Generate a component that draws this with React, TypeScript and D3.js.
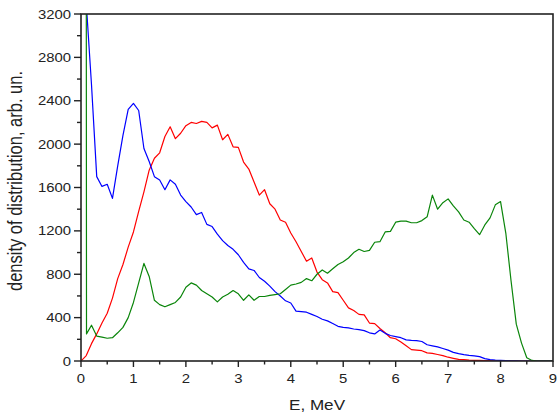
import React from "react";
import * as d3 from "d3";

const ENERGY = [0.0,0.1,0.2,0.3,0.4,0.5,0.6,0.7,0.8,0.9,1.0,1.1,1.2,1.3,1.4,1.5,1.6,1.7,1.8,1.9,2.0,2.1,2.2,2.3,2.4,2.5,2.6,2.7,2.8,2.9,3.0,3.1,3.2,3.3,3.4,3.5,3.6,3.7,3.8,3.9,4.0,4.1,4.2,4.3,4.4,4.5,4.6,4.7,4.8,4.9,5.0,5.1,5.2,5.3,5.4,5.5,5.6,5.7,5.8,5.9,6.0,6.1,6.2,6.3,6.4,6.5,6.6,6.7,6.8,6.9,7.0,7.1,7.2,7.3,7.4,7.5,7.6,7.7,7.8,7.9,8.0,8.1,8.2,8.3,8.4,8.5,8.6,8.7,8.8,8.9,9.0];

const RED = [0,50,160,250,350,440,580,760,890,1050,1190,1380,1560,1760,1870,1920,2070,2160,2050,2100,2170,2200,2190,2210,2200,2150,2175,2040,2090,1975,1970,1835,1770,1650,1530,1580,1450,1400,1300,1280,1180,1100,1010,920,950,820,750,720,640,630,560,490,465,430,425,350,345,300,260,215,205,175,140,105,100,95,75,70,60,50,35,25,15,12,8,6,5,4,3,2,2,1,1,1,0,0,0,0,0,0,0];

const BLUE = [null,3300,2550,1700,1610,1630,1500,1800,2080,2320,2375,2310,1960,1840,1700,1670,1580,1670,1630,1530,1470,1420,1350,1370,1260,1240,1170,1110,1065,1030,980,910,850,835,770,735,690,640,600,555,535,460,455,450,430,410,385,370,345,320,310,305,295,290,280,260,250,285,255,235,225,215,195,190,188,180,150,140,130,115,100,80,68,58,52,48,40,22,12,8,6,4,2,1,0,0,0,0,0,0,0];

const GREEN_ENERGY = [0.0,0.1,0.105,0.2,0.3,0.4,0.5,0.6,0.7,0.8,0.9,1.0,1.1,1.2,1.3,1.4,1.5,1.6,1.7,1.8,1.9,2.0,2.1,2.2,2.3,2.4,2.5,2.6,2.7,2.8,2.9,3.0,3.1,3.2,3.3,3.4,3.5,3.6,3.7,3.8,3.9,4.0,4.1,4.2,4.3,4.4,4.5,4.6,4.7,4.8,4.9,5.0,5.1,5.2,5.3,5.4,5.5,5.6,5.7,5.8,5.9,6.0,6.1,6.2,6.3,6.4,6.5,6.6,6.7,6.8,6.9,7.0,7.1,7.2,7.3,7.4,7.5,7.6,7.7,7.8,7.9,8.0,8.1,8.2,8.3,8.4,8.5,8.6,8.7,8.8,8.9,9.0];

const GREEN = [4000,4000,250,330,230,220,210,215,260,310,400,540,720,900,780,560,520,500,520,540,590,680,720,700,650,620,590,545,590,615,650,620,560,610,560,595,595,605,612,620,660,700,710,725,760,740,800,840,810,850,890,915,950,1000,1030,1010,1020,1095,1100,1190,1195,1280,1290,1290,1275,1275,1295,1330,1530,1400,1460,1495,1430,1375,1300,1280,1220,1165,1255,1320,1440,1470,1180,740,340,165,30,5,0,0,0,0,0];

const X_TICKS = [0,1,2,3,4,5,6,7,8,9];
const Y_TICKS = [0,400,800,1200,1600,2000,2400,2800,3200];

const W = 557, H = 416;
const L = 81, R = 553, T = 14, B = 361;
const SX = 1.18; // horizontal stretch of the text

export default function App() {
  const x = d3.scaleLinear().domain([0, 9]).range([L, R]);
  const y = d3.scaleLinear().domain([0, 3200]).range([B, T]);

  const mk = (xs: number[], vs: (number | null)[]) => {
    const pts = xs.map((e, i) => [e, vs[i]] as [number, number | null]);
    return d3.line<[number, number | null]>()
      .defined(d => d[1] !== null)
      .x(d => x(d[0]))
      .y(d => y(d[1] as number))(pts) || "";
  };

  const xMinor = d3.range(0.5, 9, 1);
  const yMinor = d3.range(200, 3200, 400);
  const font = "'Liberation Sans', Arial, sans-serif";
  const ink = "#222";

  return (
    <svg width={W} height={H} style={{ position: "absolute", left: 0, top: 0, background: "#fff" }}>
      <defs>
        <clipPath id="plot">
          <rect x={L} y={T} width={R - L} height={B - T} />
        </clipPath>
      </defs>
      <g clipPath="url(#plot)" fill="none" strokeWidth={1.2} strokeLinejoin="round">
        <path d={mk(ENERGY, RED)} stroke="#ff0000" />
        <path d={mk(ENERGY, BLUE)} stroke="#0000ff" />
        <path d={mk(GREEN_ENERGY, GREEN)} stroke="#0a850a" />
      </g>
      <rect x={L} y={T} width={R - L} height={B - T} fill="none" stroke={ink} strokeWidth={1.6} />
      {X_TICKS.map(t => (
        <g key={"x" + t}>
          <line x1={x(t)} x2={x(t)} y1={B} y2={B + 6} stroke={ink} strokeWidth={1.4} />
          <text transform={`translate(${x(t)},383) scale(${SX},1)`} textAnchor="middle" fontFamily={font} fontSize={12.6} fill={ink}>{t}</text>
        </g>
      ))}
      {xMinor.map(t => (
        <line key={"xm" + t} x1={x(t)} x2={x(t)} y1={B} y2={B + 3.5} stroke={ink} strokeWidth={1.4} />
      ))}
      {Y_TICKS.map(t => (
        <g key={"y" + t}>
          <line x1={L - 7} x2={L} y1={y(t)} y2={y(t)} stroke={ink} strokeWidth={1.4} />
          <text transform={`translate(71,${y(t)}) scale(${SX},1)`} dy="0.36em" textAnchor="end" fontFamily={font} fontSize={12.6} fill={ink}>{t}</text>
        </g>
      ))}
      {yMinor.map(t => (
        <line key={"ym" + t} x1={L - 4} x2={L} y1={y(t)} y2={y(t)} stroke={ink} strokeWidth={1.4} />
      ))}
      <text transform={`translate(317,410) scale(${SX},1)`} textAnchor="middle" fontFamily={font} fontSize={14.5} fill={ink}>E, MeV</text>
      <text transform={`translate(22,181) scale(${SX},1) rotate(-90)`} textAnchor="middle" fontFamily={font} fontSize={16.5} fill={ink}>density of distribution, arb. un.</text>
    </svg>
  );
}
